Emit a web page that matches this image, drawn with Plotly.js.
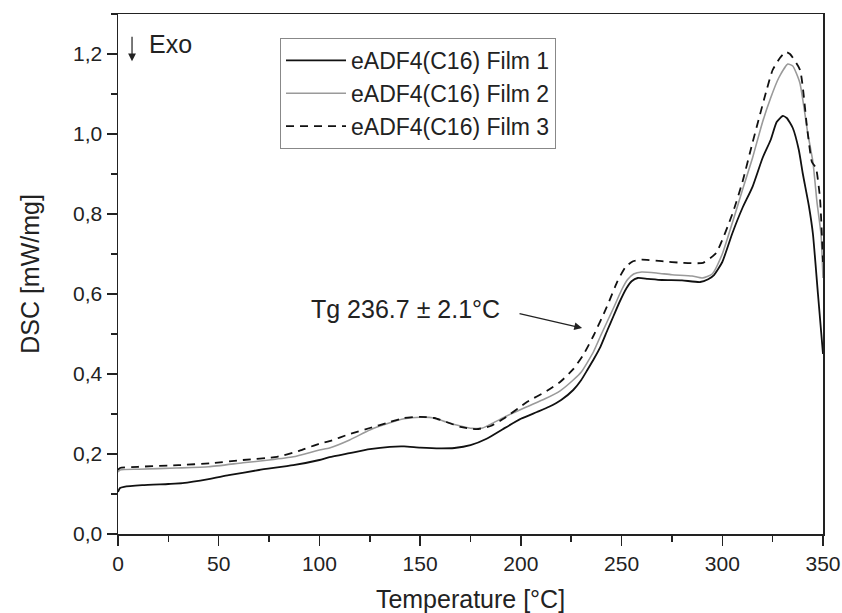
<!DOCTYPE html>
<html>
<head>
<meta charset="utf-8">
<script src="https://cdn.plot.ly/plotly-3.0.1.min.js"></script>
<style>html,body{margin:0;padding:0;background:#fff}#chart{width:842px;height:613px}</style>
</head>
<body>
<div id="chart"></div>
<script>
// Film 1 (black solid)
const t1 = [0,1,3,12,25,32,45,55,70,87,100,105,115,125,135,142,150,160,167,175,183,191,200,208,214,220,226,230,233,236.5,239.5,243,246,249,252.5,255,258,263,270,280,289,293,296,300,305,310,315,320,324,327,330,332,335,338,340,343,345,347.5,350];
const d1 = [0.105,0.115,0.118,0.122,0.125,0.127,0.137,0.147,0.16,0.172,0.185,0.192,0.202,0.212,0.218,0.219,0.216,0.214,0.215,0.222,0.238,0.262,0.288,0.305,0.318,0.335,0.36,0.385,0.41,0.44,0.468,0.51,0.545,0.58,0.615,0.632,0.64,0.638,0.635,0.634,0.63,0.637,0.648,0.68,0.752,0.815,0.868,0.94,0.985,1.03,1.045,1.04,1.015,0.96,0.9,0.82,0.75,0.6,0.45];
// Film 2 (grey solid)
const t2 = [0,1,10,29,45,62,75,87,100,105,115,125,135,142,150,157,163,170,176,181,186,193,203,212,219.5,226,230,236,240,246,250,253,256,260,268,275,285,290,295,300,305,310,315,320,324,328,332.5,335,338.5,342.5,345,347,349,350];
const d2 = [0.155,0.16,0.162,0.165,0.168,0.178,0.185,0.193,0.21,0.215,0.235,0.26,0.278,0.288,0.292,0.29,0.28,0.27,0.264,0.265,0.277,0.295,0.318,0.338,0.358,0.385,0.405,0.455,0.5,0.565,0.61,0.636,0.65,0.655,0.652,0.648,0.645,0.64,0.65,0.7,0.778,0.86,0.94,1.03,1.09,1.14,1.175,1.17,1.128,1.0,0.93,0.83,0.75,0.64];
// Film 3 (black dashed)
const t3 = [0,1,10,30,46,62,79,90,100,105,115,125,135,142,150,157,163,170,178,185,192,203,213,219.5,226,231,236,242.6,248,252,255.7,260,270,280,290.5,297,305,310,315,322,325,328.6,331.5,333.6,338.6,342,344.5,346.5,348.5,350];
const d3 = [0.16,0.165,0.168,0.172,0.177,0.185,0.193,0.208,0.226,0.232,0.25,0.265,0.28,0.29,0.293,0.29,0.28,0.268,0.262,0.27,0.29,0.33,0.358,0.38,0.412,0.448,0.495,0.567,0.632,0.668,0.682,0.686,0.682,0.678,0.678,0.703,0.8,0.88,0.978,1.11,1.16,1.19,1.205,1.2,1.16,1.02,0.93,0.915,0.84,0.68];
const names = ["eADF4(C16) Film 1","eADF4(C16) Film 2","eADF4(C16) Film 3"];
const tgLabel = "Tg 236.7 ± 2.1°C";
const exoLabel = "Exo";

const FONT = "Liberation Sans, Arial, Helvetica, sans-serif";
const traces = [
  {x:t1, y:d1, name:names[0], mode:'lines', line:{color:'#111', width:1.8, shape:'spline', smoothing:0.5}},
  {x:t2, y:d2, name:names[1], mode:'lines', line:{color:'#9a9a9a', width:1.6, shape:'spline', smoothing:0.5}},
  {x:t3, y:d3, name:names[2], mode:'lines', line:{color:'#111', width:1.8, dash:'8px,6px', shape:'spline', smoothing:0.5}}
];
const axisCommon = {
  showline:true, mirror:true, linecolor:'#222', linewidth:1.5,
  ticks:'outside', ticklen:10, tickwidth:1.5, tickcolor:'#222',
  showgrid:false, zeroline:false,
  tickfont:{family:FONT, size:21, color:'#222'}
};
const layout = {
  width:842, height:613,
  margin:{l:118, r:19, t:14, b:79},
  paper_bgcolor:'#fff', plot_bgcolor:'#fff',
  separators:',.',
  font:{family:FONT, color:'#222'},
  showlegend:true,
  legend:{x:0.2298, y:0.954, xanchor:'left', yanchor:'top', bgcolor:'#fff',
          bordercolor:'#888', borderwidth:1, font:{family:FONT, size:23, color:'#222'},
          tracegroupgap:0, itemwidth:60},
  xaxis:Object.assign({}, axisCommon, {
    range:[0,350], dtick:50, tick0:0,
    minor:{dtick:25, ticklen:6, tickwidth:1.5, tickcolor:'#222', ticks:'outside'},
    title:{text:'Temperature [°C]', font:{family:FONT, size:25, color:'#222'}, standoff:18}
  }),
  yaxis:Object.assign({}, axisCommon, {
    range:[0,1.3], dtick:0.2, tick0:0, tickformat:'.1f',
    minor:{dtick:0.1, ticklen:6, tickwidth:1.5, tickcolor:'#222', ticks:'outside'},
    title:{text:'DSC [mW/mg]', font:{family:FONT, size:25, color:'#222'}, standoff:26}
  }),
  annotations:[
    {xref:'x', yref:'y', x:230.4, y:0.515, axref:'x', ayref:'y', ax:198.6, ay:0.552,
     text:'', showarrow:true, arrowhead:2, arrowsize:1.3, arrowwidth:1.2, arrowcolor:'#222', standoff:0, startstandoff:0},
    {xref:'x', yref:'y', x:142.5, y:0.5625, xanchor:'center', yanchor:'middle', text:tgLabel, showarrow:false,
     font:{family:FONT, size:25, color:'#222'}},
    {xref:'paper', yref:'paper', x:0.0199, y:0.909, ax:0, ay:-26, text:'', showarrow:true,
     arrowhead:2, arrowsize:1.3, arrowwidth:1.2, arrowcolor:'#222', standoff:0},
    {xref:'paper', yref:'paper', x:0.041, y:0.942, xanchor:'left', yanchor:'middle', text:exoLabel, showarrow:false,
     font:{family:FONT, size:25, color:'#222'}}
  ]
};
Plotly.newPlot('chart', traces, layout, {staticPlot:true, displayModeBar:false});
</script>
</body>
</html>
